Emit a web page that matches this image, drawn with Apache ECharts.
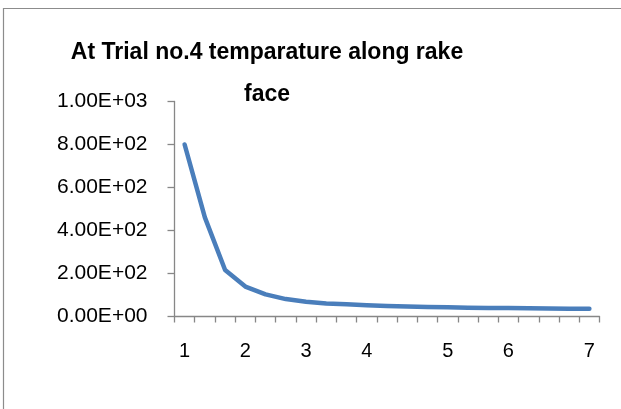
<!DOCTYPE html>
<html>
<head>
<meta charset="utf-8">
<script src="https://cdn.jsdelivr.net/npm/echarts@6/dist/echarts.min.js"></script>
<style>
html,body{margin:0;padding:0;background:#fff;overflow:hidden;}
#chart{width:621px;height:409px;}
</style>
</head>
<body>
<div id="chart"></div>
<script>
var titleText = 'At Trial no.4 temparature along rake\nface';
var categories = ['1','','','2','','','3','','','4','','','','5','','','6','','','','7'];
var temperature = [800, 461, 216, 139, 103, 81, 69, 61, 57, 52, 49, 46, 44, 43, 41, 40, 39, 38, 37, 36, 36];
var yTickLabels = ['0.00E+00','2.00E+02','4.00E+02','6.00E+02','8.00E+02','1.00E+03'];

var chart = echarts.init(document.getElementById('chart'), null, {renderer:'canvas'});
var axisGray = '#878787';
var font = 'Liberation Sans';
chart.setOption({
  animation: false,
  backgroundColor: '#ffffff',
  graphic: [{
    type: 'polyline',
    shape: {points: [[3.5, 409], [3.5, 8.5], [621, 8.5]]},
    style: {stroke: '#8c8c8c', lineWidth: 1.2, fill: null},
    silent: true
  }],
  title: {
    text: titleText,
    left: 262,
    textAlign: 'center',
    top: 27,
    textStyle: {fontFamily: font, fontWeight: 'bold', fontSize: 23, color: '#000', lineHeight: 42}
  },
  grid: {left: 174.5, right: 21.5, top: 101.5, bottom: 92.5, containLabel: false},
  xAxis: {
    type: 'category',
    data: categories,
    boundaryGap: true,
    axisLine: {lineStyle: {color: axisGray, width: 1.3}},
    axisTick: {show: true, length: 6, interval: 0, lineStyle: {color: axisGray, width: 1.3}},
    axisLabel: {interval: 0, margin: 25, fontFamily: font, fontSize: 20, color: '#000'},
    splitLine: {show: false}
  },
  yAxis: {
    type: 'value',
    min: 0, max: 1000, interval: 200,
    axisLine: {show: true, lineStyle: {color: axisGray, width: 1.3}},
    axisTick: {show: true, length: 7, lineStyle: {color: axisGray, width: 1.3}},
    axisLabel: {
      margin: 27, fontFamily: font, fontSize: 21, color: '#000',
      formatter: function (v, i) { return yTickLabels[Math.round(v / 200)]; }
    },
    splitLine: {show: false}
  },
  series: [{
    type: 'line',
    data: temperature,
    symbol: 'none',
    smooth: false,
    lineStyle: {color: '#4a7ebb', width: 4.5, cap: 'round', join: 'round'}
  }]
});
</script>
</body>
</html>
